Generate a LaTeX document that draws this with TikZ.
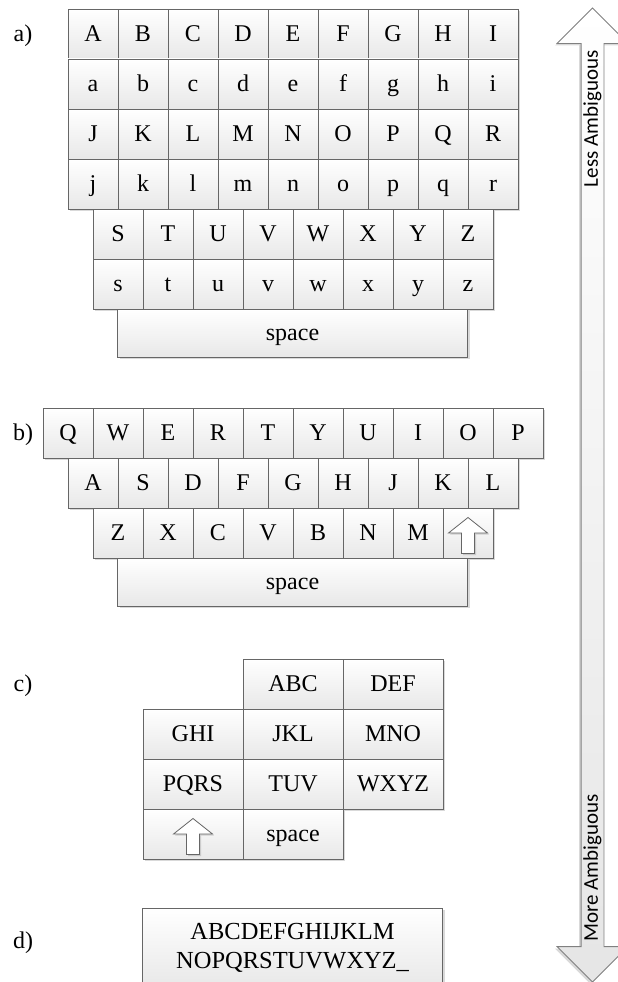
\documentclass[tikz,border=0pt]{standalone}
\usepackage{fontspec}
\setmainfont{Liberation Serif}
\newfontfamily\calibrifont{Carlito}
\usepackage{tikz}
\usetikzlibrary{shapes,arrows,positioning,shadows}
\usepackage{xcolor}

\begin{document}
\begin{tikzpicture}[x=1pt,y=-1pt]
    \tikzstyle{key} = [rectangle, draw=black!60, line width=0.8pt,
               top color=white, bottom color=black!9,
               minimum width=50pt, minimum height=50pt,
               inner sep=0pt, outer sep=0pt,
               text height=15.5pt, text depth=0pt,
               font=\fontsize{24}{28}\selectfont,
               drop shadow={shadow xshift=2pt, shadow yshift=-2pt, opacity=0.3}]
    \tikzstyle{widekey} = [key, minimum width=100pt]
    \tikzstyle{spacekey} = [key, minimum width=350pt, minimum height=48pt]
    \tikzstyle{tag} = [font=\fontsize{24}{28}\selectfont, text height=15.5pt, text depth=0pt]
    \tikzstyle{shiftsym} = [draw=black!60, line width=0.8pt, fill=white,
               drop shadow={shadow xshift=1.5pt, shadow yshift=-1.5pt, opacity=0.3}]
    \tikzstyle{ambig} = [font=\calibrifont\fontsize{21}{25}\selectfont, rotate=90]

    \useasboundingbox (0,0) rectangle (618,982);
    \clip (0,0) rectangle (618,982);

    % a) alphabetic keyboard
    \node[tag] (lbl-a) at (23,34) {a)};
    \foreach \r/\dx/\keys in {1/43/{A,B,C,D,E,F,G,H,I}, 2/43/{a,b,c,d,e,f,g,h,i},
                              3/43/{J,K,L,M,N,O,P,Q,R}, 4/43/{j,k,l,m,n,o,p,q,r},
                              5/68/{S,T,U,V,W,X,Y,Z}, 6/68/{s,t,u,v,w,x,y,z}}
      \foreach \k [count=\i] in \keys
        \node[key] (a\r-\i) at ({\dx+50*\i}, {-16+50*\r}) {\k};
    \node[spacekey] (a-space) at (292.5,333) {space};

    % b) qwerty keyboard
    \node[tag] (lbl-b) at (23,433) {b)};
    \foreach \r/\dx/\keys in {1/18/{Q,W,E,R,T,Y,U,I,O,P}, 2/43/{A,S,D,F,G,H,J,K,L},
                              3/68/{Z,X,C,V,B,N,M,{}}}
      \foreach \k [count=\i] in \keys
        \node[key] (b\r-\i) at ({\dx+50*\i}, {383+50*\r}) {\k};
    \node[spacekey] (b-space) at (292.5,582) {space};
    \draw[shiftsym, shift={(b3-8.center)}] (0,-15.5) -- (19.5,0) -- (6.5,0) -- (6.5,20.5)
        -- (-6.5,20.5) -- (-6.5,0) -- (-19.5,0) -- cycle;

    % c) phone keypad
    \node[tag] (lbl-c) at (23,684) {c)};
    \foreach \r/\s/\keys in {1/2/{ABC,DEF}, 2/1/{GHI,JKL,MNO}, 3/1/{PQRS,TUV,WXYZ}, 4/1/{{},space}}
      \foreach \k [count=\i] in \keys
        \node[widekey] (c\r-\i) at ({93+100*(\s+\i-1)}, {634+50*\r}) {\k};
    \draw[shiftsym, shift={(c4-1.center)}] (0,-15.5) -- (19.5,0) -- (6.5,0) -- (6.5,20.5)
        -- (-6.5,20.5) -- (-6.5,0) -- (-19.5,0) -- cycle;

    % d) single key
    \node[tag] (lbl-d) at (23,941) {d)};
    \node[key, anchor=north, minimum width=300pt, minimum height=0pt, inner ysep=15pt,
          text height=, text depth=, align=center,
          font=\fontsize{24.5}{29}\selectfont] (d-all) at (292.5,908)
          {ABCDEFGHIJKLM\\NOPQRSTUVWXYZ\_};

    % ambiguity arrow
    \node[double arrow, draw=black!50, line width=0.8pt, rotate=90,
          top color=white, bottom color=black!10,
          minimum height=974pt, inner xsep=0pt, inner ysep=11pt,
          double arrow head extend=24pt,
          drop shadow={shadow xshift=-2pt, shadow yshift=-2pt, opacity=0.3}] (arrow) at (592.5,495) {};
    \node[ambig, anchor=east] (less) at (592.5,47) {Less Ambiguous};
    \node[ambig, anchor=west] (more) at (592.5,945) {More Ambiguous};
\end{tikzpicture}
\end{document}
